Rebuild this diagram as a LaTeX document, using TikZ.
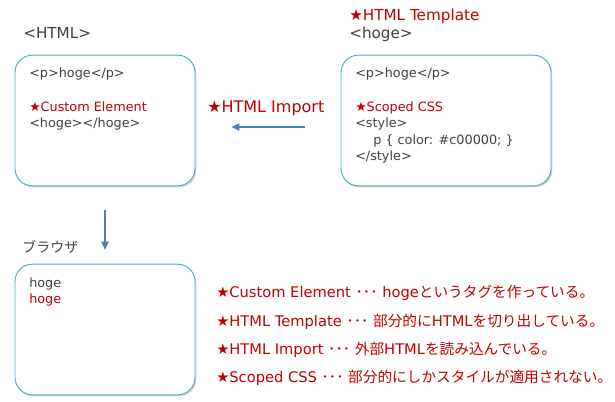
\documentclass[tikz,border=0pt]{standalone}
\usepackage{fontspec}
\setmainfont{DejaVu Sans}
\newfontfamily\jpfont{Noto Sans CJK JP}
\usepackage{xcolor}
\usepackage{tikz}
\usetikzlibrary{arrows.meta, shadows}
\definecolor{textgray}{RGB}{64, 64, 64}
\definecolor{markred}{RGB}{192, 0, 0}
\definecolor{boxteal}{RGB}{75, 172, 198}
\definecolor{arrowblue}{RGB}{74, 126, 187}
\newcommand{\notedots}{{\jpfont ･･･}}

\begin{document}
\begin{tikzpicture}[
    x=0.75pt, y=-0.75pt,
    panel/.style={draw=boxteal, line width=0.7pt, fill=white, rounded corners=13pt,
                  minimum width=135pt, minimum height=98pt,
                  drop shadow={shadow xshift=1pt, shadow yshift=-1.2pt, opacity=0.35}},
    code/.style={anchor=base west, inner sep=0pt, text=textgray,
                 font=\fontsize{9.6}{11}\selectfont},
    redcode/.style={code, text=markred},
    title/.style={anchor=base west, inner sep=0pt, text=textgray,
                  font=\fontsize{11.4}{13}\selectfont},
    redtitle/.style={title, text=markred},
    note/.style={redtitle, font=\fontsize{11}{13}\selectfont},
    flow/.style={draw=arrowblue, line width=0.8pt, -{Triangle[length=6pt, width=5.5pt]}}
]
    \useasboundingbox (0,0) rectangle (615,402);

    % Boxes
    \node[panel] (htmlbox) at (105,120.5) {};
    \node[panel, minimum width=157.5pt] (tplbox) at (446,120.5) {};
    \node[panel] (browserbox) at (105,329.5) {};

    % HTML
    \node[title] (htmllabel) at (23,39) {<HTML>};
    \node[code] (htmlp) at (29,78) {<p>hoge</p>};
    \node[redcode] (htmlce) at (29,112) {★Custom Element};
    \node[code] (htmltag) at (29,128) {<hoge></hoge>};

    % Template
    \node[redtitle] (tpllabel) at (349,21) {★HTML Template};
    \node[title] (tpltag) at (349,39) {<hoge>};
    \node[code] (tplp) at (355,78) {<p>hoge</p>};
    \node[redcode] (tplcss) at (355,112) {★Scoped CSS};
    \node[code] (tplstyle) at (355,128) {<style>};
    \node[code] (tplrule) at (373,144.5) {p \{ color: \#c00000; \}};
    \node[code] (tplend) at (355,161) {</style>};

    % Import
    \node[redtitle, font=\fontsize{12}{14}\selectfont] (importlabel) at (207,113) {★HTML Import};
    \draw[flow] ([shift={(-36,6.5)}]tplbox.west) -- ([shift={(36,6.5)}]htmlbox.east);

    % Browser
    \draw[flow] ([yshift=-18pt]htmlbox.south) -- ([yshift=10.5pt]browserbox.north);
    \node[title, font=\jpfont\fontsize{10.5}{12}\selectfont] (browserlabel) at (22,253) {ブラウザ};
    \node[code] (browserhoge) at (29,288) {hoge};
    \node[redcode] (browserred) at (29,304) {hoge};

    % Notes
    \node[note] (note1) at (216,298) {★Custom Element \notedots{} hoge{\jpfont というタグを作っている。}};
    \node[note] (note2) at (216,327) {★HTML Template \notedots{} {\jpfont 部分的に}HTML{\jpfont を切り出している。}};
    \node[note] (note3) at (216,355) {★HTML Import \notedots{} {\jpfont 外部}HTML{\jpfont を読み込んでいる。}};
    \node[note] (note4) at (216,383) {★Scoped CSS \notedots{} {\jpfont 部分的にしかスタイルが適用されない。}};
\end{tikzpicture}
\end{document}
